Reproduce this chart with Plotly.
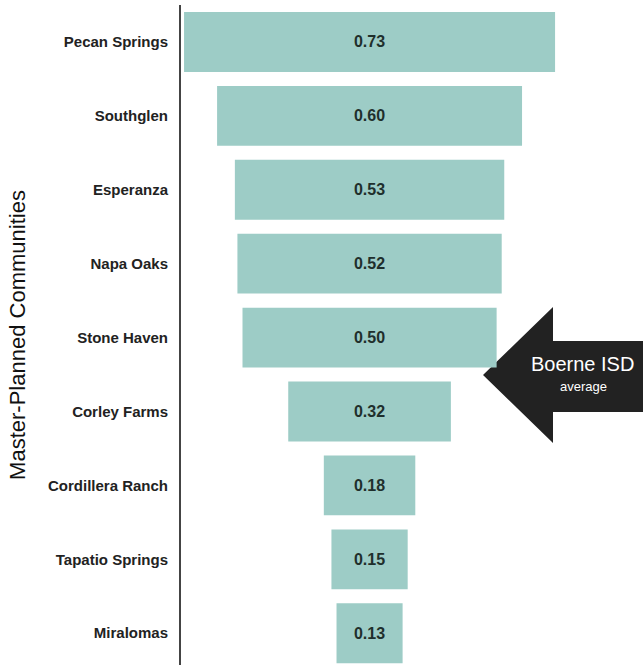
import plotly.graph_objects as go

communities = ["Pecan Springs", "Southglen", "Esperanza", "Napa Oaks", "Stone Haven",
               "Corley Farms", "Cordillera Ranch", "Tapatio Springs", "Miralomas"]
values = [0.73, 0.60, 0.53, 0.52, 0.50, 0.32, 0.18, 0.15, 0.13]
labels = [f"{v:.2f}" for v in values]

W, H = 643, 665
L, R, T, B = 181, 0, 5, 0

fig = go.Figure(go.Funnel(
    y=communities,
    x=values,
    text=labels,
    textinfo="text",
    textposition="inside",
    insidetextanchor="middle",
    textfont=dict(family="Liberation Sans, Arial", size=16, color="#1f2f2c", weight="bold"),
    marker=dict(color="#9dccc6", line=dict(width=0)),
    connector=dict(visible=False),
    hoverinfo="skip",
))

def px(xp):
    return (xp - L) / (W - L - R)

def py(yp):
    return (H - B - yp) / (H - T - B)

pts = [(483, 375), (553, 307), (553, 341), (655, 341), (655, 412), (553, 412), (553, 443)]
path = "M " + " L ".join(f"{px(a):.4f},{py(b):.4f}" for a, b in pts) + " Z"

fig.update_layout(
    width=W, height=H,
    margin=dict(l=L, r=R, t=T, b=B),
    paper_bgcolor="white",
    plot_bgcolor="rgba(0,0,0,0)",
    funnelgap=0.19,
    showlegend=False,
    shapes=[dict(type="path", xref="paper", yref="paper", path=path,
                 fillcolor="#222222", line=dict(width=0), layer="below")],
    annotations=[
        dict(x=px(582), y=py(364), xref="paper", yref="paper", text="Boerne ISD",
             xanchor="center", yanchor="middle", showarrow=False,
             font=dict(family="Liberation Sans, Arial", size=20, color="white")),
        dict(x=px(583), y=py(386), xref="paper", yref="paper", text="average",
             xanchor="center", yanchor="middle", showarrow=False,
             font=dict(family="Liberation Sans, Arial", size=13, color="white")),
    ],
    xaxis=dict(range=[-0.371, 0.538], showticklabels=False, showgrid=False,
               zeroline=False, showline=False, fixedrange=True),
    yaxis=dict(
        range=[8.43, -0.5], showline=True, linecolor="#444444", linewidth=2,
        ticks="", showgrid=False, zeroline=False, ticklabelstandoff=8,
        tickfont=dict(family="Liberation Sans, Arial", size=15, color="#222222", weight="bold"),
        title=dict(text="Master-Planned Communities", standoff=16,
                   font=dict(family="Liberation Sans, Arial", size=22, color="#111111")),
    ),
)

fig.write_html("out.html")
